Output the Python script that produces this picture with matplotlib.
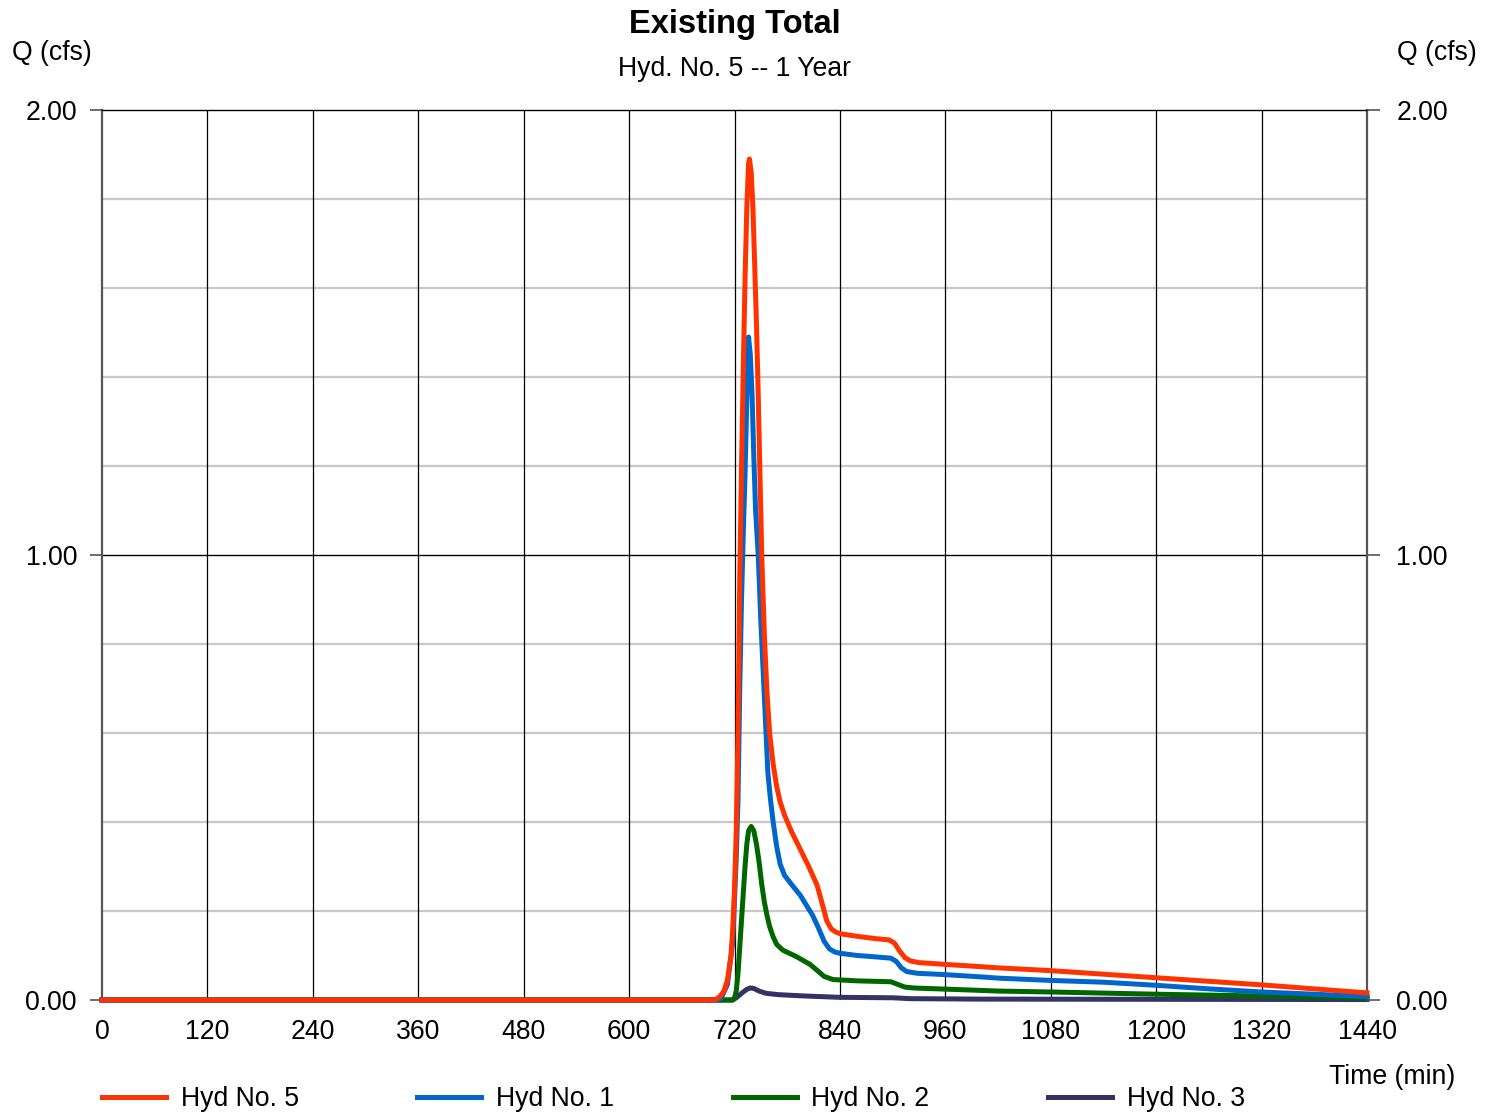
import matplotlib.pyplot as plt

plt.rcParams["font.family"] = ["Liberation Sans", "DejaVu Sans"]

# hydrograph values (time in min, Q in cfs)
t5 = [0, 698, 703, 708, 712, 716, 718, 720, 722, 724, 726, 728, 730, 732, 734, 736, 737,
      739, 741, 743, 745, 747, 749, 751, 754, 757, 760, 764, 768, 772, 777, 785, 794,
      804, 814, 820, 825, 830, 835, 840, 860, 880, 896, 902, 908, 914, 920, 930, 960, 1000, 1022,
      1080, 1140, 1200, 1260, 1320, 1380, 1440]
q5 = [0, 0, 0.007, 0.02, 0.045, 0.1, 0.16, 0.25, 0.38, 0.6, 0.95, 1.2, 1.42, 1.62, 1.78, 1.88, 1.89,
      1.86, 1.78, 1.65, 1.52, 1.36, 1.18, 1.0, 0.82, 0.69, 0.6, 0.53, 0.48, 0.445, 0.415, 0.378, 0.342,
      0.302, 0.258, 0.215, 0.178, 0.16, 0.153, 0.149, 0.143, 0.138, 0.135, 0.128, 0.11, 0.095, 0.088, 0.084, 0.08, 0.075, 0.072,
      0.066, 0.058, 0.05, 0.042, 0.034, 0.025, 0.016]

t1 = [0, 700, 705, 712, 718, 722, 724, 726, 728, 730, 732, 734, 736, 738, 740, 742, 744, 747,
      750, 754, 758, 761, 764, 768, 772, 777, 784, 795, 809, 816, 822, 828, 834, 840, 860, 880, 898,
      904, 910, 916, 928, 960, 1000, 1022, 1080, 1140, 1200, 1260, 1320, 1380, 1440]
q1 = [0, 0, 0.005, 0.035, 0.13, 0.32, 0.45, 0.7, 0.9, 1.05, 1.18, 1.35, 1.49, 1.45, 1.36, 1.22, 1.1, 1.0,
      0.85, 0.68, 0.51, 0.45, 0.4, 0.345, 0.305, 0.28, 0.262, 0.235, 0.19, 0.16, 0.132, 0.115, 0.108, 0.105, 0.1, 0.097, 0.094,
      0.087, 0.072, 0.064, 0.06, 0.057, 0.052, 0.049, 0.044, 0.04, 0.033, 0.025, 0.018, 0.013, 0.008]

t2 = [0, 718, 720, 722, 724, 726, 728, 730, 732, 734, 736, 739, 742, 745, 748, 751, 754, 757,
      760, 764, 768, 775, 790, 806, 815, 822, 832, 860, 898, 906, 914, 924, 1022, 1080,
      1200, 1320, 1440]
q2 = [0, 0, 0.005, 0.02, 0.06, 0.12, 0.18, 0.24, 0.3, 0.35, 0.38, 0.39, 0.38, 0.35, 0.31, 0.26, 0.22, 0.19,
      0.165, 0.142, 0.125, 0.112, 0.098, 0.08, 0.065, 0.053, 0.046, 0.043, 0.041, 0.035, 0.029, 0.027, 0.02, 0.018,
      0.013, 0.009, 0.005]

t3 = [0, 718, 722, 728, 734, 738, 742, 748, 756, 770, 800, 840, 900, 920, 1000, 1440]
q3 = [0, 0, 0.005, 0.015, 0.024, 0.027, 0.026, 0.02, 0.015, 0.012, 0.009, 0.006, 0.005, 0.003, 0.002, 0.001]

xticks = list(range(0, 1441, 120))
yticks = [0, 1, 2]
ylabels = ["0.00", "1.00", "2.00"]

fs = 19.2

fig = plt.figure(figsize=(14.97, 11.14), dpi=100)
ax = fig.add_axes([102 / 1497, 114 / 1114, 1265 / 1497, 890 / 1114])

ax.set_xlim(0, 1440)
ax.set_ylim(0, 2)

# grid
for y in [0.2, 0.4, 0.6, 0.8, 1.2, 1.4, 1.6, 1.8]:
    ax.axhline(y, color="#c8c8c8", lw=1.6, zorder=1)
ax.axhline(1.0, color="black", lw=1.0, zorder=1)
for x in xticks[1:-1]:
    ax.axvline(x, color="black", lw=0.9, zorder=1)

ax.plot(t3, q3, color="#333366", lw=3.6, label="Hyd No. 3", clip_on=False, zorder=3)
ax.plot(t2, q2, color="#006600", lw=3.6, label="Hyd No. 2", clip_on=False, zorder=4)
ax.plot(t1, q1, color="#0066cc", lw=3.6, label="Hyd No. 1", clip_on=False, zorder=5)
ax.plot(t5, q5, color="#ff3300", lw=3.6, label="Hyd No. 5", clip_on=False, zorder=6)

for s in ["left", "right"]:
    ax.spines[s].set_color("#555555")
    ax.spines[s].set_linewidth(1.6)
ax.spines["top"].set_linewidth(1.0)
ax.spines["bottom"].set_visible(False)

ax.set_xticks(xticks)
ax.set_xticklabels([str(v) for v in xticks], fontsize=fs)
ax.tick_params(axis="x", length=0, pad=14)
ax.set_yticks(yticks)
ax.set_yticklabels(ylabels, fontsize=fs)
ax.tick_params(axis="y", length=8.5, width=1.2, color="#555555", pad=9.5,
               left=True, right=False, labelleft=True, labelright=False)

ax2 = ax.twinx()
ax2.set_ylim(0, 2)
ax2.set_yticks(yticks)
ax2.set_yticklabels(ylabels, fontsize=fs)
ax2.tick_params(axis="y", length=9, width=1.2, color="#555555", pad=12)
for s in ax2.spines.values():
    s.set_visible(False)

fig.text(12 / 1497, 1 - 53 / 1114, "Q (cfs)", fontsize=fs, ha="left", va="center")
fig.text(1477 / 1497, 1 - 53 / 1114, "Q (cfs)", fontsize=fs, ha="right", va="center")
fig.text(734.5 / 1497, 1 - 25 / 1114, "Existing Total", fontsize=23.5, fontweight="bold",
         ha="center", va="center")
fig.text(734.5 / 1497, 1 - 69 / 1114, "Hyd. No. 5 -- 1 Year", fontsize=fs,
         ha="center", va="center")
fig.text(1455 / 1497, 1 - 1077 / 1114, "Time (min)", fontsize=fs, ha="right", va="center")

h, l = ax.get_legend_handles_labels()
order = [3, 2, 1, 0]
fig.legend([h[i] for i in order], [l[i] for i in order], ncol=4, frameon=False,
           loc="center left", bbox_to_anchor=(102 / 1497, 1 - 1099 / 1114),
           borderpad=0, borderaxespad=0, handlelength=2.4, handletextpad=0.55,
           columnspacing=4.45, prop={"size": fs})

fig.savefig("out.png", dpi=100)
